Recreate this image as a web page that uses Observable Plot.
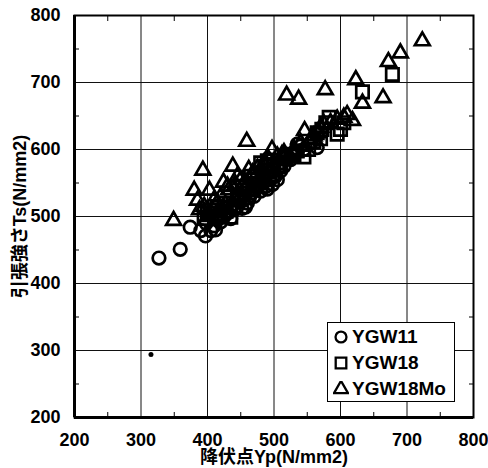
<!DOCTYPE html>
<html>
<head>
<meta charset="utf-8">
<script src="https://cdn.jsdelivr.net/npm/d3@7"></script>
<script src="https://cdn.jsdelivr.net/npm/@observablehq/plot@0.6"></script>
<style>
  body { margin: 0; background: #fff; }
  #wrap { position: relative; width: 488px; height: 468px; font-family: "Liberation Sans", "Noto Sans CJK JP", sans-serif; }
  #legend { position: absolute; left: 327px; top: 322px; width: 128px; height: 80px; border: 1px solid #000; background: #fff; box-sizing: border-box; }
  .row { position: absolute; left: 5px; height: 24px; display: flex; align-items: center; font-size: 19px; font-weight: bold; color: #000; }
  .row svg { margin-right: 3px; }
</style>
</head>
<body>
<div id="wrap"></div>
<script>
// YGW11 (circles)
const ygw11X = [327,359,374,390,397,405,398,410,415,420,425,430,435,440,445,448,452,457,460,463,466,470,472,476,480,484,488,490,494,498,502,505,510,515,525,535,545,555,565,420,430,445,455,462,412,418,428,438,450,468,478,485,492,500,508,520,530,540];
const ygw11Y = [438,451,484,479,471,479,490,486,495,492,500,505,497,510,515,522,512,514,520,528,535,530,540,545,538,550,545,541,555,548,560,555,568,575,585,608,600,610,603,510,520,530,535,545,480,500,512,518,526,540,552,560,565,562,572,590,595,605];
// YGW18 (squares)
const ygw18X = [395,400,405,412,420,428,435,440,448,455,460,468,475,482,487,490,495,500,510,518,525,535,545,552,560,570,572,578,583,595,600,605,633,678,465,480,415,425,445,452,470,485,505,530,565];
const ygw18Y = [497,505,510,500,504,508,499,515,525,535,540,548,555,565,575,583,578,570,580,588,593,598,589,600,612,616,630,640,648,623,630,640,686,712,560,580,515,520,530,545,555,560,575,590,625];
// YGW18Mo (triangles)
const ygw18moX = [349,380,385,393,388,403,410,424,430,438,445,450,459,462,468,475,485,497,505,515,519,530,537,546,555,565,570,577,585,595,605,610,618,623,633,664,672,690,723,420,400,395,415,432,442,455,480,492,512,540,560,575];
const ygw18moY = [494,539,524,569,510,539,525,551,545,575,560,555,612,570,565,572,580,600,590,595,681,600,675,628,615,625,633,689,640,645,648,652,643,704,669,677,731,744,762,530,500,515,520,540,548,550,570,585,592,610,620,638];
// stray dot visible in the picture
const strayX = [315];
const strayY = [294];

const majorTicks = [200,300,400,500,600,700,800];
const minorTicks = [250,350,450,550,650,750];
const seriesNames = ["YGW11","YGW18","YGW18Mo"];
const xLabel = "降伏点Yp(N/mm2)";
const yLabel = "引張強さTs(N/mm2)";

const toRows = (xs, ys) => xs.map((x, i) => ({x, y: ys[i]}));
const d11 = toRows(ygw11X, ygw11Y);
const d18 = toRows(ygw18X, ygw18Y);
const d18mo = toRows(ygw18moX, ygw18moY);
const stray = toRows(strayX, strayY);

const font = `"Liberation Sans", "Noto Sans CJK JP", sans-serif`;

const chart = Plot.plot({
  width: 488,
  height: 468,
  marginLeft: 74,
  marginRight: 15,
  marginTop: 15,
  marginBottom: 51,
  style: {fontFamily: font, background: "#fff", color: "#000"},
  x: {domain: [200, 800]},
  y: {domain: [200, 800]},
  marks: [
    Plot.gridX(majorTicks, {stroke: "#111", strokeOpacity: 1, strokeWidth: 1}),
    Plot.gridY(majorTicks, {stroke: "#111", strokeOpacity: 1, strokeWidth: 1}),
    Plot.axisX({ticks: majorTicks, tickSize: 0, tickPadding: 16, fontSize: 18, fontWeight: "bold", label: null}),
    Plot.axisY({ticks: majorTicks, tickSize: 0, tickPadding: 14, fontSize: 18, fontWeight: "bold", label: null}),
    Plot.axisX({ticks: minorTicks, tickSize: -5, text: null, label: null, anchor: "bottom"}),
    Plot.axisX({ticks: minorTicks, tickSize: -5, text: null, label: null, anchor: "top"}),
    Plot.axisY({ticks: minorTicks, tickSize: -5, text: null, label: null, anchor: "left"}),
    Plot.axisY({ticks: minorTicks, tickSize: -5, text: null, label: null, anchor: "right"}),
    Plot.frame({stroke: "#000", strokeWidth: 2}),
    Plot.ruleX([200], {stroke: "#000", strokeWidth: 3}),
    Plot.ruleY([200], {stroke: "#000", strokeWidth: 3}),
    Plot.dot(d11, {x: "x", y: "y", symbol: "circle", r: 6.3, stroke: "#000", strokeWidth: 2.7, fill: "none"}),
    Plot.dot(d18, {x: "x", y: "y", symbol: "square", r: 7, stroke: "#000", strokeWidth: 2.7, fill: "none"}),
    Plot.dot(d18mo, {x: "x", y: "y", symbol: "triangle", r: 5.5, stroke: "#000", strokeWidth: 2.7, fill: "none"}),
    Plot.dot(stray, {x: "x", y: "y", r: 2.5, fill: "#000"}),
    Plot.text([xLabel], {frameAnchor: "bottom", dy: 40, text: d => d, fontSize: 18, fontWeight: "bold", lineAnchor: "middle", textAnchor: "middle"}),
    Plot.text([yLabel], {frameAnchor: "left", dx: -54, rotate: -90, text: d => d, fontSize: 18, fontWeight: "bold", lineAnchor: "middle", textAnchor: "middle"})
  ]
});

const wrap = document.getElementById("wrap");
wrap.appendChild(chart);

const legend = document.createElement("div");
legend.id = "legend";
const symbols = [d3.symbolCircle, d3.symbolSquare, d3.symbolTriangle];
const sizes = [Math.PI * 6.3 * 6.3 * 0.75, Math.PI * 6.3 * 6.3 * 0.9, Math.PI * 5.5 * 5.5 * 0.9];
seriesNames.forEach((name, i) => {
  const row = document.createElement("div");
  row.className = "row";
  row.style.top = (2 + i * 26) + "px";
  const path = d3.symbol(symbols[i], sizes[i])();
  row.innerHTML = `<svg width="16" height="16" viewBox="-8 -8 16 16"><path d="${path}" fill="none" stroke="#000" stroke-width="2.3"/></svg><span>${name}</span>`;
  legend.appendChild(row);
});
wrap.appendChild(legend);
</script>
</body>
</html>
